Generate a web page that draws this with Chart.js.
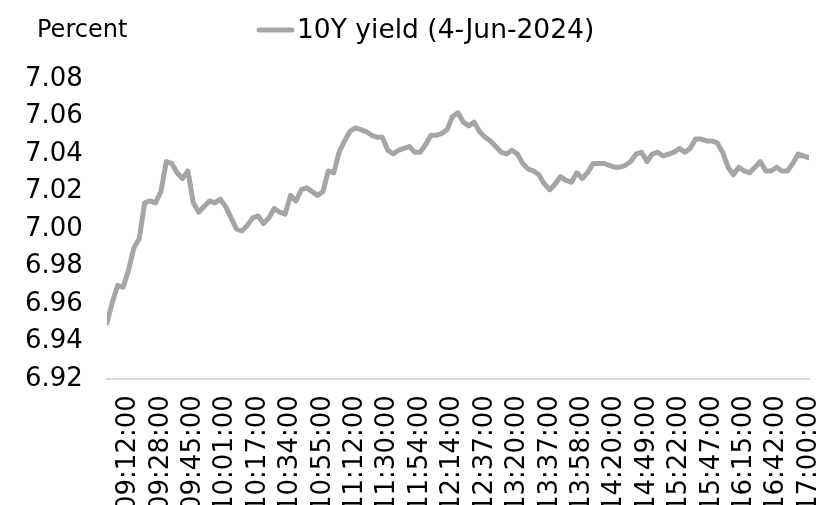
<!DOCTYPE html>
<html>
<head>
<meta charset="utf-8">
<script src="https://cdn.jsdelivr.net/npm/chart.js@4/dist/chart.umd.min.js"></script>
<style>
  html, body { margin: 0; padding: 0; background: #fff; overflow: hidden; }
  #wrap { position: relative; width: 836px; height: 528px; }
</style>
</head>
<body>
<div id="wrap"><canvas id="c"></canvas></div>
<script>
// Series name and axis title
const seriesName = '10Y yield (4-Jun-2024)';
const axisTitle = 'Percent';

// Time labels shown on the x axis (every 6th observation, starting at observation 4)
const tickLabels = ['09:12:00','09:28:00','09:45:00','10:01:00','10:17:00','10:34:00','10:55:00',
  '11:12:00','11:30:00','11:54:00','12:14:00','12:37:00','13:20:00','13:37:00','13:58:00',
  '14:20:00','14:49:00','15:22:00','15:47:00','16:15:00','16:42:00','17:00:00'];
const firstTickIndex = 4;
const tickStep = 6;

// Y axis tick values
const yTicks = [6.92, 6.94, 6.96, 6.98, 7.00, 7.02, 7.04, 7.06, 7.08];

const yieldValues = [
  6.950, 6.961, 6.970, 6.969, 6.978, 6.990, 6.995, 7.014, 7.015, 7.014,
  7.020, 7.036, 7.035, 7.030, 7.027, 7.031, 7.014, 7.009, 7.012, 7.015,
  7.014, 7.016, 7.012, 7.006, 7.000, 6.999, 7.002, 7.006, 7.007, 7.003,
  7.006, 7.011, 7.009, 7.008, 7.018, 7.015, 7.021, 7.022, 7.020, 7.018,
  7.020, 7.031, 7.030, 7.041, 7.047, 7.052, 7.054, 7.053, 7.052, 7.050,
  7.049, 7.049, 7.042, 7.040, 7.042, 7.043, 7.044, 7.041, 7.041, 7.045,
  7.050, 7.050, 7.051, 7.053, 7.060, 7.062, 7.057, 7.055, 7.057, 7.052,
  7.049, 7.047, 7.044, 7.041, 7.040, 7.042, 7.040, 7.035, 7.032, 7.031,
  7.029, 7.024, 7.021, 7.024, 7.028, 7.026, 7.025, 7.030, 7.027, 7.030,
  7.035, 7.035, 7.035, 7.034, 7.033, 7.033, 7.034, 7.036, 7.040, 7.041,
  7.036, 7.040, 7.041, 7.039, 7.040, 7.041, 7.043, 7.041, 7.043, 7.048,
  7.048, 7.047, 7.047, 7.046, 7.041, 7.033, 7.029, 7.033, 7.031, 7.030,
  7.033, 7.036, 7.031, 7.031, 7.033, 7.031, 7.031, 7.035, 7.040, 7.039,
  7.038
];

const FONT = "'DejaVu Sans', Verdana, sans-serif";
const LINE_COLOR = '#A5A5A5';

const headerPlugin = {
  id: 'header',
  afterDraw(chart) {
    const ctx = chart.ctx;
    ctx.save();
    ctx.fillStyle = '#000';
    ctx.textBaseline = 'middle';
    ctx.textAlign = 'left';
    ctx.font = '24px ' + FONT;
    ctx.fillText(axisTitle, 37, 31);
    // legend
    ctx.strokeStyle = LINE_COLOR;
    ctx.lineWidth = 5;
    ctx.lineCap = 'round';
    ctx.beginPath();
    ctx.moveTo(259, 30);
    ctx.lineTo(292, 30);
    ctx.stroke();
    ctx.font = '26.5px ' + FONT;
    ctx.fillText(chart.data.datasets[0].label, 297, 31);
    ctx.restore();
  }
};

new Chart(document.getElementById('c'), {
  type: 'line',
  data: {
    datasets: [{
      label: seriesName,
      data: yieldValues.map((v, i) => ({ x: i, y: v })),
      borderColor: LINE_COLOR,
      backgroundColor: LINE_COLOR,
      borderWidth: 5,
      pointRadius: 0,
      tension: 0,
      borderJoinStyle: 'round',
      borderCapStyle: 'round',
      fill: false
    }]
  },
  options: {
    responsive: true,
    maintainAspectRatio: false,
    animation: false,
    layout: { padding: { left: 1, right: 27, top: 79, bottom: 0 } },
    plugins: {
      legend: { display: false },
      tooltip: { enabled: false }
    },
    scales: {
      x: {
        type: 'linear',
        min: 0,
        max: yieldValues.length - 1,
        grid: { display: false, drawTicks: false },
        border: { display: true, color: '#D9D9D9', width: 2 },
        afterBuildTicks: (axis) => {
          axis.ticks = tickLabels.map((t, i) => ({ value: firstTickIndex + i * tickStep }));
        },
        afterFit: (axis) => {
          axis.paddingLeft = 0;
          axis.paddingRight = 0;
        },
        ticks: {
          autoSkip: false,
          minRotation: 90,
          maxRotation: 90,
          padding: 16,
          color: '#000',
          font: { family: FONT, size: 26 },
          callback: (value) => tickLabels[Math.round((value - firstTickIndex) / tickStep)]
        }
      },
      y: {
        min: 6.92,
        max: 7.08,
        grid: { display: false, drawTicks: false },
        border: { display: false },
        afterBuildTicks: (axis) => {
          axis.ticks = yTicks.map(v => ({ value: v }));
        },
        ticks: {
          padding: 24,
          color: '#000',
          font: { family: FONT, size: 26 },
          callback: (v) => Number(v).toFixed(2)
        }
      }
    }
  },
  plugins: [headerPlugin]
});
</script>
</body>
</html>
